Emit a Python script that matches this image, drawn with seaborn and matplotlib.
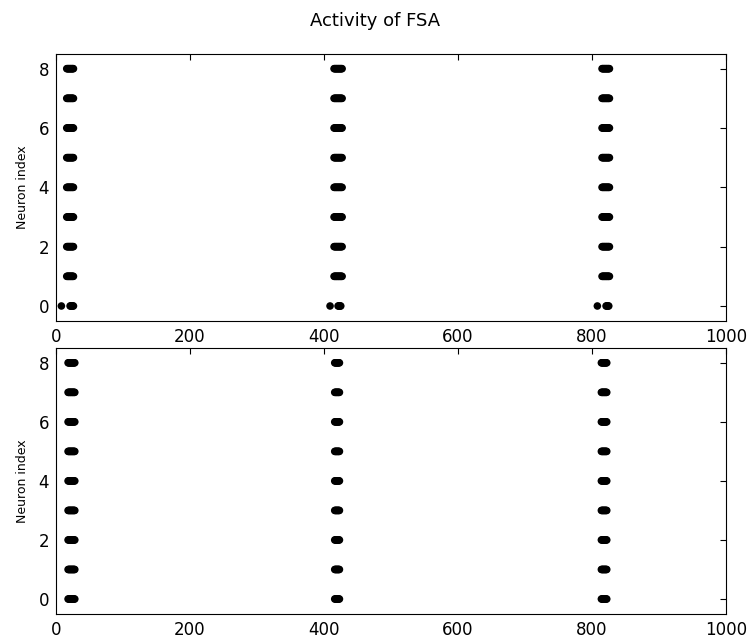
import matplotlib
matplotlib.use("Agg")
import matplotlib.pyplot as plt
import seaborn as sns
import pandas as pd

title = "Activity of FSA"
ylabel = "Neuron index"
neurons = [0, 1, 2, 3, 4, 5, 6, 7, 8]
x_ticks = [0, 200, 400, 600, 800, 1000]
y_ticks = [0, 2, 4, 6, 8]

# spike times (ms) per burst, top panel
top_n0_times = [8, 21, 22, 23, 24, 25, 26,
                409, 421, 422, 423, 424, 425,
                808, 821, 822, 823, 824, 825]
top_other_times = [16, 17, 18, 19, 20, 21, 22, 23, 24, 25, 26,
                   415, 416, 417, 418, 419, 420, 421, 422, 423, 424, 425, 426, 427,
                   815, 816, 817, 818, 819, 820, 821, 822, 823, 824, 825, 826]
# bottom panel
bottom_times = [18, 19, 20, 21, 22, 23, 24, 25, 26, 27, 28,
                416, 417, 418, 419, 420, 421, 422, 423,
                814, 815, 816, 817, 818, 819, 820, 821, 822]

rows_top = []
for n in neurons:
    ts = top_n0_times if n == 0 else top_other_times
    rows_top += [(t, n) for t in ts]
df_top = pd.DataFrame(rows_top, columns=["time", "neuron"])
rows_bot = [(t, n) for n in neurons for t in bottom_times]
df_bot = pd.DataFrame(rows_bot, columns=["time", "neuron"])

sns.set_style("white")
plt.rcParams.update({
    "font.family": ["DejaVu Sans"],
    "text.color": "black", "axes.labelcolor": "black",
    "xtick.direction": "in", "ytick.direction": "in",
    "xtick.top": True, "ytick.right": True,
    "xtick.major.size": 4, "ytick.major.size": 4,
    "xtick.major.width": 0.8, "ytick.major.width": 0.8,
    "xtick.labelsize": 12, "ytick.labelsize": 12,
    "axes.edgecolor": "black", "axes.linewidth": 0.8,
    "xtick.color": "black", "ytick.color": "black",
})

fig = plt.figure(figsize=(7.5, 6.41), dpi=100)
ax1 = fig.add_axes([0.0747, 0.4995, 0.8933, 0.4165])
ax2 = fig.add_axes([0.0747, 0.0425, 0.8933, 0.4145])

for ax, df in [(ax1, df_top), (ax2, df_bot)]:
    sns.scatterplot(data=df, x="time", y="neuron", ax=ax, color="black",
                    s=30, edgecolor="none", marker="o", legend=False)
    ax.set_xlim(0, 1000)
    ax.set_ylim(-0.5, 8.5)
    ax.set_xticks(x_ticks)
    ax.set_yticks(y_ticks)
    ax.set_xlabel("")
    ax.set_ylabel(ylabel, fontsize=9, labelpad=7)
    ax.tick_params(axis="both", pad=5)
    for sp in ax.spines.values():
        sp.set_visible(True)
        sp.set_color("black")

fig.text(0.5, 0.968, title, ha="center", va="center", fontsize=13)
fig.savefig("out.png", dpi=100)
